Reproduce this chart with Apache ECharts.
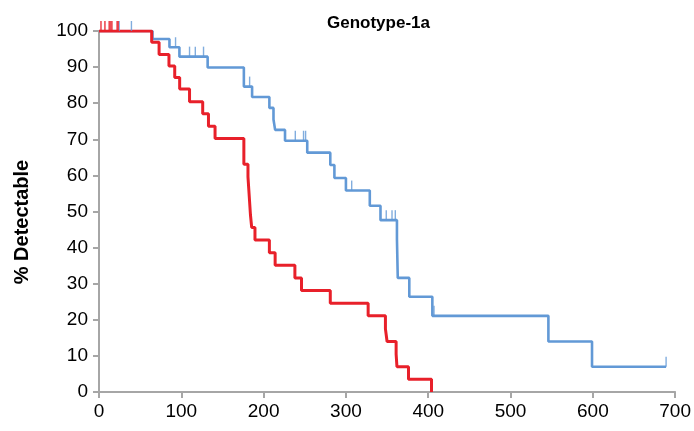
<!DOCTYPE html>
<html>
<head>
<meta charset="utf-8">
<script src="https://cdn.jsdelivr.net/npm/echarts@6/dist/echarts.min.js"></script>
<style>html,body{margin:0;padding:0;background:#fff}#c{width:694px;height:431px}</style>
</head>
<body>
<div id="c"></div>
<script>
// Red curve (step times and % detectable)
var redTimes = [0, 64, 73, 85, 92, 98, 110, 126, 133, 141, 176, 181, 182, 184, 185.5, 189.5, 207, 214, 238, 246, 281, 327, 348, 350, 361, 362, 376, 404];
var redSurv  = [100, 96.9, 93.5, 90.3, 87.1, 83.9, 80.4, 77.1, 73.6, 70.2, 63.1, 59.6, 56.1, 49.1, 45.6, 42.1, 38.6, 35.1, 31.6, 28.1, 24.6, 21.1, 17.5, 14.0, 10.5, 7.0, 3.5, 0];
// Blue curve
var blueTimes = [0, 65, 85.6, 97.7, 132, 176, 186, 207, 212, 214, 226, 253, 281, 286, 300, 329, 342, 362, 363, 377, 405, 546, 599, 689];
var blueSurv  = [100, 97.8, 95.5, 92.9, 89.9, 84.6, 81.7, 78.7, 75.5, 72.6, 69.6, 66.3, 62.9, 59.3, 55.8, 51.6, 47.6, 42.3, 31.6, 26.4, 21.1, 14.0, 7.0, 7.0];
// Censor marks
var redCensT = [2.4, 7.2, 12.4, 14.1, 15.7, 22, 23.3];
var redCensS = [100, 100, 100, 100, 100, 100, 100];
var blueCensT = [24.5, 39.4, 93, 110, 117, 127, 183, 238.5, 248.5, 251, 307, 349, 356, 360, 407, 689];
var blueCensS = [100, 100, 95.5, 92.9, 92.9, 92.9, 84.6, 69.6, 69.6, 69.6, 55.8, 47.6, 47.6, 47.6, 21.1, 7.0];
// Axis ticks
var xTicks = [0, 100, 200, 300, 400, 500, 600, 700];
var yTicks = [0, 10, 20, 30, 40, 50, 60, 70, 80, 90, 100];

var RED = '#E8202A', BLUE = '#6299D6';
function zip(a, b) { return a.map(function (v, i) { return [v, b[i]]; }); }

var chart = echarts.init(document.getElementById('c'), null, {renderer: 'canvas'});
var axisCol = '#A6A6A6';
var font = 'Arial, "Liberation Sans", sans-serif';
chart.setOption({
  animation: false,
  title: {
    text: 'Genotype-1a', left: 322, top: 10,
    textStyle: {fontFamily: font, fontSize: 17, fontWeight: 'bold', color: '#000'}
  },
  graphic: [{
    type: 'text', x: 22, y: 222, rotation: Math.PI / 2,
    style: {text: '% Detectable', fontFamily: font, fontSize: 20, fontWeight: 'bold', fill: '#000', textAlign: 'center', textVerticalAlign: 'middle'}
  }],
  grid: {left: 99, right: 15, top: 31, bottom: 39, containLabel: false},
  xAxis: {
    type: 'value', min: xTicks[0], max: xTicks[xTicks.length - 1], interval: 100,
    axisLine: {show: true, onZero: false, lineStyle: {color: axisCol, width: 2}},
    axisTick: {show: true, length: 6, lineStyle: {color: axisCol, width: 2}},
    axisLabel: {fontFamily: font, fontSize: 19, color: '#000', margin: 10},
    splitLine: {show: false}
  },
  yAxis: {
    type: 'value', min: yTicks[0], max: yTicks[yTicks.length - 1], interval: 10,
    axisLine: {show: true, onZero: false, lineStyle: {color: axisCol, width: 2}},
    axisTick: {show: true, length: 6, lineStyle: {color: axisCol, width: 2}},
    axisLabel: {fontFamily: font, fontSize: 19, color: '#000', margin: 11},
    splitLine: {show: false}
  },
  series: [
    {type: 'line', step: 'end', data: zip(blueTimes, blueSurv), symbol: 'none',
     lineStyle: {color: BLUE, width: 2.6}, z: 2},
    {type: 'line', step: 'end', data: zip(redTimes, redSurv), symbol: 'none',
     lineStyle: {color: RED, width: 3}, z: 3},
    {type: 'scatter', data: zip(blueCensT, blueCensS), symbol: 'rect', symbolSize: [1.4, 10],
     symbolOffset: [0, -5], itemStyle: {color: BLUE}, z: 4, silent: true},
    {type: 'scatter', data: zip(redCensT, redCensS), symbol: 'rect', symbolSize: [1.6, 10],
     symbolOffset: [0, -5], itemStyle: {color: RED}, z: 5, silent: true}
  ]
});
</script>
</body>
</html>
